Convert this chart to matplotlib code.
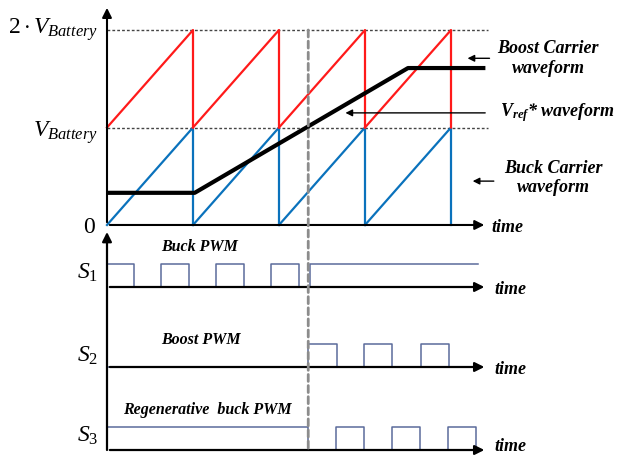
import matplotlib
matplotlib.use('Agg')
import matplotlib.pyplot as plt
from matplotlib.patches import ConnectionPatch

plt.rcParams['font.family'] = ['Liberation Serif', 'DejaVu Serif']
plt.rcParams['mathtext.fontset'] = 'custom'
plt.rcParams['mathtext.rm'] = 'Liberation Serif'
plt.rcParams['mathtext.it'] = 'Liberation Serif:italic'
plt.rcParams['mathtext.bf'] = 'Liberation Serif:italic:bold'

# carrier periods (time in carrier periods, voltage in V_battery units)
periods = [0, 1, 2, 3, 4]
t_end = 4.4
t_mode = 2.34

# reference voltage V_ref*
vref_t = [0, 1.02, 3.5, 4.4]
vref_v = [0.33, 0.33, 1.61, 1.61]

# PWM switching signals (edges, levels)
s1_t = [0, 0.314, 0.314, 0.628, 0.628, 0.953, 0.953, 1.267, 1.267, 1.593, 1.593,
        1.907, 1.907, 2.233, 2.233, 2.36, 2.36, 4.31]
s1_v = [1, 1, 0, 0, 1, 1, 0, 0, 1, 1, 0, 0, 1, 1, 0, 0, 1, 1]
s2_t = [0, 2.335, 2.335, 2.674, 2.674, 2.988, 2.988, 3.314, 3.314, 3.651, 3.651,
        3.977, 3.977, 4.3]
s2_v = [0, 0, 1, 1, 0, 0, 1, 1, 0, 0, 1, 1, 0, 0]
s3_t = [0, 2.335, 2.335, 2.663, 2.663, 2.988, 2.988, 3.314, 3.314, 3.64, 3.64,
        3.965, 3.965, 4.29, 4.29]
s3_v = [1, 1, 0, 0, 1, 1, 0, 0, 1, 1, 0, 0, 1, 1, 0]

red = '#ff1a1a'
blue = '#0a72bc'
pwm_c = '#5b6b9b'
W, H = 627, 458
xlim = (-107 / 86, (W - 107) / 86)


def add_ax(top, bot):
    ax = fig.add_axes([0, 1 - bot / H, 1, (bot - top) / H])
    ax.set_xlim(*xlim)
    ax.axis('off')
    return ax


def lane(ax, top, bot, base, h=23):
    ax.set_ylim(-(bot - base) / h, (base - top) / h)


fig = plt.figure(figsize=(6.27, 4.58), dpi=100)

# ---- top panel: carriers ----
ax1 = add_ax(0, 232)
ax1.set_ylim(-0.072, 2.308)

for k in periods[:-1]:
    ax1.plot([k, k + 1, k + 1], [0, 1, 0], color=blue, lw=1.6, zorder=3)
    ax1.plot([k, k + 1, k + 1], [1, 2, 1], color=red, lw=1.6, zorder=3)
ax1.plot(vref_t, vref_v, color='black', lw=3, zorder=4, solid_capstyle='butt')

for lvl in [1, 2]:
    ax1.plot([0, 4.43], [lvl, lvl], color='#444444', lw=1, ls=(0, (2, 1.5)), zorder=2)

arrow_kw = dict(arrowstyle='-|>', color='black', lw=1.5, mutation_scale=14)
ax1.annotate('', xy=(0, 2.256), xytext=(0, 0), arrowprops=arrow_kw)
ax1.annotate('', xy=(t_end + 0.02, 0), xytext=(0, 0), arrowprops=arrow_kw)
ax1.text(t_end + 0.07, -0.03, 'time', fontsize=13, weight='bold', style='italic',
         ha='left', va='center')

ax1.text(-0.1, 2.0, r'$2\cdot V_{Battery}$', fontsize=17, ha='right', va='center')
ax1.text(-0.1, 0.95, r'$V_{Battery}$', fontsize=17, ha='right', va='center')
ax1.text(-0.14, -0.03, '0', fontsize=17, ha='right', va='center')

lbl = dict(fontsize=13, weight='bold', style='italic', va='center')
ann_kw = dict(arrowstyle='-|>', color='black', lw=1, mutation_scale=10)
ax1.text(5.13, 1.71, 'Boost Carrier\nwaveform', ha='center', **lbl)
ax1.annotate('', xy=(4.16, 1.71), xytext=(4.48, 1.71), arrowprops=ann_kw)
ax1.text(4.57, 1.15, r'$\mathbf{V_{ref}}$* waveform', ha='left', **lbl)
ax1.annotate('', xy=(2.74, 1.15), xytext=(4.43, 1.15), arrowprops=ann_kw)
ax1.text(5.19, 0.48, 'Buck Carrier\nwaveform', ha='center', **lbl)
ax1.annotate('', xy=(4.22, 0.45), xytext=(4.53, 0.45), arrowprops=ann_kw)

# ---- PWM lanes ----
ax_s1 = add_ax(232, 325)
lane(ax_s1, 232, 325, 287)
ax_s2 = add_ax(325, 405)
lane(ax_s2, 325, 405, 367)
ax_s3 = add_ax(405, 458)
lane(ax_s3, 405, 458, 450)

lanes = [(ax_s1, s1_t, s1_v, r'$S_1$', 0.6, 'Buck PWM', 1.08, 1.74, -0.1),
         (ax_s2, s2_t, s2_v, r'$S_2$', 0.5, 'Boost PWM', 1.09, 1.17, -0.1),
         (ax_s3, s3_t, s3_v, r'$S_3$', 0.6, 'Regenerative  buck PWM', 1.17, 1.74, 0.15)]
for ax, st, sv, name, ny, title, tx, ty, time_y in lanes:
    ax.plot(st, sv, color=pwm_c, lw=1.1, zorder=3)
    ax.annotate('', xy=(t_end + 0.02, 0), xytext=(0, 0),
                arrowprops=dict(arrow_kw, lw=1.6), zorder=4)
    ax.text(t_end + 0.1, time_y, 'time', fontsize=13, weight='bold', style='italic',
            ha='left', va='center')
    ax.text(-0.1, ny, name, fontsize=17, ha='right', va='center')
    ax.text(tx, ty, title, fontsize=11.5, weight='bold', style='italic',
            ha='center', va='center')

# bottom left axis with arrow
fig.add_artist(ConnectionPatch(xyA=(0, 0), coordsA=ax_s3.transData,
                               xyB=(0, (287 - 232) / 23), coordsB=ax_s1.transData,
                               arrowstyle='-|>', color='black', lw=1.6,
                               mutation_scale=14))

# mode boundary
fig.add_artist(ConnectionPatch(xyA=(t_mode, 2.0), coordsA=ax1.transData,
                               xyB=(t_mode, 0), coordsB=ax_s3.transData,
                               color='#8c8c8c', lw=2, ls=(0, (2.5, 1.5))))

fig.savefig('out.png', dpi=100)
